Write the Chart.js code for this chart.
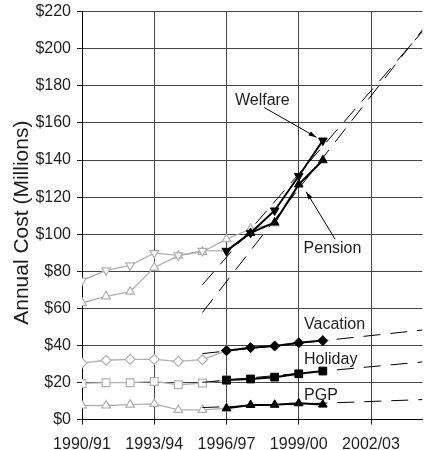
<!DOCTYPE html>
<html>
<head>
<meta charset="utf-8">
<script src="https://cdn.jsdelivr.net/npm/chart.js@4.4.1/dist/chart.umd.min.js"></script>
<style>
  html, body { margin: 0; padding: 0; background: #fff; overflow: hidden; }
  #wrap { width: 429px; height: 450px; }
</style>
</head>
<body>
<div id="wrap"><canvas id="chart"></canvas></div>
<script>
// fiscal years: 1990 stands for 1990/91
const xTickYears = [1990, 1993, 1996, 1999, 2002];

// historical (grey) series
const welfareHistYears = [1990, 1991, 1992, 1993, 1994, 1995, 1996];
const welfareHist = [75, 80.5, 83.2, 89.8, 88.6, 91, 91];
const pensionHistYears = [1990, 1991, 1992, 1993, 1994, 1995, 1996, 1997, 1998];
const pensionHist = [63, 66.5, 69, 82, 88.4, 90.5, 97.3, 102.8, 105.8];
const otherHistYears = [1990, 1991, 1992, 1993, 1994, 1995, 1996];
const vacationHist = [30.5, 32, 32.5, 32.5, 31.4, 32.3, 37.2];
const holidayHist = [19.5, 19.9, 19.9, 20.6, 18.8, 19.7, 21.3];
const pgpHist = [7.6, 7.6, 8.1, 8.5, 5.2, 5.2, 6.1];

// recent (black) series
const recentYears = [1996, 1997, 1998, 1999, 2000];
const welfare = [91, 100.7, 112.8, 131.4, 150.5];
const pensionYears = [1997, 1998, 1999, 2000];
const pension = [100.7, 106.3, 126.8, 139.9];
const vacation = [37.2, 38.8, 39.7, 41.4, 42.6];
const holiday = [21.3, 21.9, 22.9, 24.7, 26.2];
const pgp = [6.1, 7.9, 8.0, 8.8, 8.1];

// dashed trend lines (start / end)
const trendYears = [1995, 2005];
const welfareTrend = [72.7, 222.2];
const pensionTrend = [57.8, 224.6];
const vacationTrend = [35.6, 49.5];
const holidayTrend = [20.1, 32.15];
const pgpTrend = [6.5, 11.2];

// text labels and arrows, in data units
const labelNames = ['Welfare', 'Pension', 'Vacation', 'Holiday', 'PGP'];
const labelYears = [1996.35, 1999.2, 1999.22, 1999.22, 1999.22];
const labelValues = [172, 92.4, 51.3, 32.3, 13.2];
const arrowFrom = [[1997.57, 168.3], [2000.51, 97.3]];
const arrowTo = [[1999.73, 152.3], [1999.31, 122.9]];

const FONT = '"Liberation Sans", Arial, sans-serif';
const GREY = '#b0b0b0';
const TEXT = '#1e1e1e';

const pts = (xs, ys) => xs.map((x, i) => ({ x: x, y: ys[i] }));

function histSet(xs, ys, style, rotation) {
  return {
    data: pts(xs, ys),
    borderColor: GREY,
    borderWidth: 1.3,
    pointStyle: style,
    pointRotation: rotation || 0,
    pointRadius: style === 'rect' ? 5.5 : 5,
    pointBackgroundColor: '#fff',
    pointBorderColor: GREY,
    pointBorderWidth: 1.2,
    order: 3
  };
}

function recentSet(xs, ys, style, rotation) {
  return {
    data: pts(xs, ys),
    borderColor: '#000',
    borderWidth: 2,
    pointStyle: style,
    pointRotation: rotation || 0,
    pointRadius: style === 'rect' ? 5.5 : 5,
    pointBackgroundColor: '#000',
    pointBorderColor: '#000',
    pointBorderWidth: 1,
    order: 1
  };
}

function trendSet(ys) {
  return {
    data: pts(trendYears, ys),
    borderColor: '#000',
    borderWidth: 1,
    borderDash: [17, 10],
    pointRadius: 0,
    order: 2
  };
}

const annotations = {
  id: 'annotations',
  afterDatasetsDraw(chart) {
    const ctx = chart.ctx;
    const xs = chart.scales.x, ys = chart.scales.y;
    ctx.save();
    ctx.fillStyle = TEXT;
    ctx.font = '16px ' + FONT;
    ctx.textAlign = 'left';
    ctx.textBaseline = 'middle';
    labelNames.forEach((name, i) => {
      ctx.fillText(name, xs.getPixelForValue(labelYears[i]), ys.getPixelForValue(labelValues[i]));
    });
    ctx.strokeStyle = '#000';
    ctx.lineWidth = 1;
    arrowFrom.forEach((from, i) => {
      const x1 = xs.getPixelForValue(from[0]), y1 = ys.getPixelForValue(from[1]);
      const x2 = xs.getPixelForValue(arrowTo[i][0]), y2 = ys.getPixelForValue(arrowTo[i][1]);
      const a = Math.atan2(y2 - y1, x2 - x1);
      ctx.beginPath();
      ctx.moveTo(x1, y1);
      ctx.lineTo(x2, y2);
      ctx.stroke();
      ctx.beginPath();
      ctx.moveTo(x2, y2);
      ctx.lineTo(x2 - 8 * Math.cos(a - 0.3), y2 - 8 * Math.sin(a - 0.3));
      ctx.lineTo(x2 - 8 * Math.cos(a + 0.3), y2 - 8 * Math.sin(a + 0.3));
      ctx.closePath();
      ctx.fillStyle = '#000';
      ctx.fill();
    });
    // y axis title
    const area = chart.chartArea;
    ctx.translate(22, (area.top + area.bottom) / 2 + 7);
    ctx.rotate(-Math.PI / 2);
    ctx.textAlign = 'center';
    ctx.fillStyle = TEXT;
    ctx.font = '21px ' + FONT;
    ctx.fillText('Annual Cost (Millions)', 0, 0);
    ctx.restore();
  }
};

const ctx = document.getElementById('chart').getContext('2d');
const chart = new Chart(ctx, {
  type: 'line',
  data: {
    datasets: [
      trendSet(welfareTrend),
      trendSet(pensionTrend),
      trendSet(vacationTrend),
      trendSet(holidayTrend),
      trendSet(pgpTrend),
      histSet(welfareHistYears, welfareHist, 'triangle', 180),
      histSet(pensionHistYears, pensionHist, 'triangle'),
      histSet(otherHistYears, vacationHist, 'rectRot'),
      histSet(otherHistYears, holidayHist, 'rect'),
      histSet(otherHistYears, pgpHist, 'triangle'),
      recentSet(recentYears, welfare, 'triangle', 180),
      recentSet(pensionYears, pension, 'triangle'),
      recentSet(recentYears, vacation, 'rectRot'),
      recentSet(recentYears, holiday, 'rect'),
      recentSet(recentYears, pgp, 'triangle')
    ]
  },
  options: {
    responsive: true,
    maintainAspectRatio: false,
    animation: false,
    layout: { padding: { top: 11.7, right: 0, bottom: 0, left: 0 } },
    plugins: {
      legend: { display: false },
      tooltip: { enabled: false }
    },
    elements: { line: { tension: 0 } },
    scales: {
      x: {
        type: 'linear',
        min: 1990,
        max: 2004.13,
        afterBuildTicks: (scale) => { scale.ticks = xTickYears.map(v => ({ value: v })); },
        afterFit: (scale) => { scale.height = 30.4; },
        ticks: {
          color: TEXT,
          font: { family: FONT, size: 16 },
          padding: 10.7,
          maxRotation: 0,
          callback: (v) => v + '/' + String((v + 1) % 100).padStart(2, '0')
        },
        grid: { color: '#444', lineWidth: 1, tickLength: 5, tickColor: '#222' },
        border: { color: '#000', width: 1 }
      },
      y: {
        min: 0,
        max: 220,
        afterFit: (scale) => {
          scale.width = 82;
          scale.paddingTop = 0;
          scale.paddingBottom = 0;
        },
        ticks: {
          stepSize: 20,
          color: TEXT,
          font: { family: FONT, size: 16 },
          padding: 6,
          callback: (v) => '$' + v
        },
        grid: { color: '#444', lineWidth: 1, tickLength: 5, tickColor: '#222' },
        border: { color: '#000', width: 1 }
      }
    }
  },
  plugins: [annotations]
});
</script>
</body>
</html>
